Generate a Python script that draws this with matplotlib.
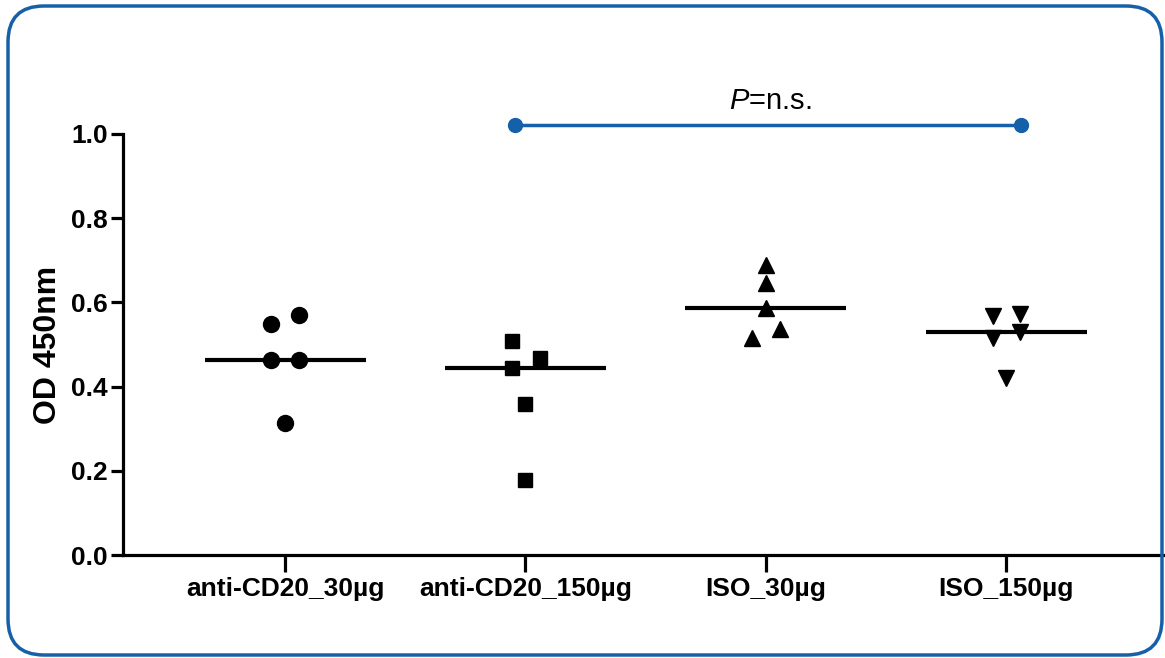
import numpy as np
import matplotlib
matplotlib.use("Agg")
import matplotlib.pyplot as plt
from matplotlib.patches import FancyBboxPatch

plt.rcParams['font.family'] = ['Liberation Sans', 'DejaVu Sans']
plt.rcParams['mathtext.fontset'] = 'custom'
plt.rcParams['mathtext.it'] = 'Liberation Sans:italic'
plt.rcParams['mathtext.rm'] = 'Liberation Sans'

# Data
groups = ['anti-CD20_30µg', 'anti-CD20_150µg', 'ISO_30µg', 'ISO_150µg']
od_cd20_30 = [0.548, 0.570, 0.462, 0.462, 0.313]
od_cd20_150 = [0.508, 0.469, 0.443, 0.359, 0.177]
od_iso_30 = [0.689, 0.645, 0.587, 0.536, 0.516]
od_iso_150 = [0.568, 0.572, 0.515, 0.530, 0.420]
values = [od_cd20_30, od_cd20_150, od_iso_30, od_iso_150]

# horizontal scatter of the points inside each column
jitter = [[-0.06, 0.058, -0.06, 0.058, 0.0],
          [-0.055, 0.06, -0.055, 0.0, 0.0],
          [0.0, 0.0, 0.0, 0.058, -0.057],
          [-0.057, 0.058, -0.057, 0.058, 0.0]]
markers = ['o', 's', '^', 'v']
msizes = [11.5, 10.5, 11.5, 11.5]

# comparison bracket
bracket_x = [0.957, 3.059]
bracket_y = 1.021
bracket_text = r'$\mathit{P}$=n.s.'

blue = '#1660a9'

fig = plt.figure(figsize=(11.65, 6.58), dpi=100)
ax = fig.add_axes([0.1056, 0.1565, 0.8944, 0.6399])
ax.set_facecolor('none')

for i, vals in enumerate(values):
    xs = i + np.array(jitter[i])
    ax.plot(xs, vals, linestyle='none', marker=markers[i], markersize=msizes[i],
            color='black', clip_on=False, zorder=3)
    med = np.median(vals)
    ax.plot([i - 0.335, i + 0.335], [med, med], color='black', lw=3, zorder=2,
            solid_capstyle='butt')

ax.plot(bracket_x, [bracket_y, bracket_y], color=blue, lw=2.5, marker='o',
        markersize=10, clip_on=False)
ax.text(np.mean(bracket_x) + 0.01, 1.046, bracket_text, ha='center', va='bottom',
        fontsize=21, color='black')

ax.set_xlim(-0.674, 3.66)
ax.set_ylim(0, 1.0)
ax.set_xticks(range(len(groups)))
ax.set_xticklabels(groups, fontsize=19, fontweight='bold')
ax.set_yticks(np.arange(0, 1.01, 0.2))
ax.set_yticklabels([f'{v:.1f}' for v in np.arange(0, 1.01, 0.2)],
                   fontsize=19, fontweight='bold')
ax.set_ylabel('OD 450nm', fontsize=23, fontweight='bold', labelpad=6)

for s in ['top', 'right']:
    ax.spines[s].set_visible(False)
for s in ['left', 'bottom']:
    ax.spines[s].set_linewidth(2.3)
ax.tick_params(axis='y', length=9, width=2.3, pad=2)
ax.tick_params(axis='x', length=12, width=2.3, pad=4)

# rounded blue frame around the whole figure
frame = FancyBboxPatch((0.08, 0.03), 11.54, 6.49,
                       boxstyle='round,pad=0,rounding_size=0.36',
                       transform=fig.dpi_scale_trans, facecolor='none',
                       edgecolor=blue, linewidth=2.5, zorder=5)
fig.add_artist(frame)

fig.savefig('out.png', dpi=100)
